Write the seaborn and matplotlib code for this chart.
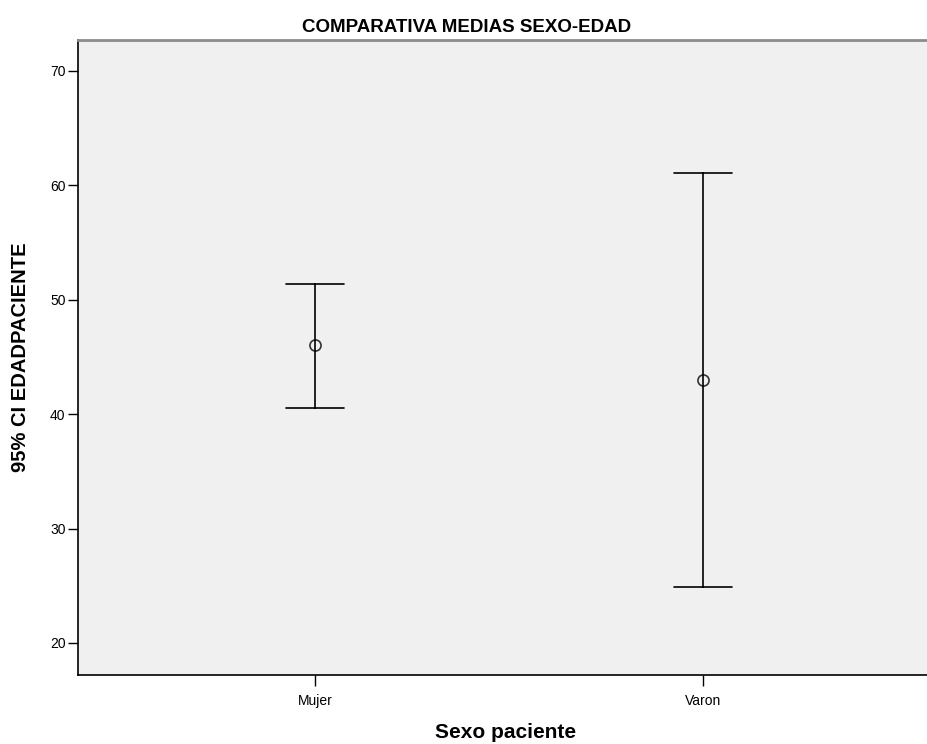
import matplotlib
matplotlib.use("Agg")
import matplotlib.pyplot as plt
import seaborn as sns
import pandas as pd

categories = ["Mujer", "Varon"]
means = [46.0, 43.0]
lower = [40.5, 24.9]
upper = [51.4, 61.1]

rows = []
for c, lo, m, hi in zip(categories, lower, means, upper):
    for v in (lo, m, hi):
        rows.append({"Sexo paciente": c, "EDAD": v})
df = pd.DataFrame(rows)

sns.set_style("white", {"text.color": "black", "axes.labelcolor": "black",
                        "xtick.color": "black", "ytick.color": "black"})
plt.rcParams["font.family"] = ["Liberation Sans", "DejaVu Sans"]

fig = plt.figure(figsize=(9.28, 7.44), dpi=100)
ax = fig.add_axes([78/928, 1-675/744, 1-78/928, (675-40)/744])
ax.set_facecolor("#f0f0f0")

sns.pointplot(data=df, x="Sexo paciente", y="EDAD", order=categories,
              estimator="median", errorbar=("pi", 100), capsize=0.15,
              linestyle="none", color="black", markers="o",
              err_kws={"linewidth": 1.2}, ax=ax)
for line in ax.lines:
    if line.get_marker() == "o":
        line.set_markerfacecolor("none")
        line.set_markeredgecolor("#333333")
        line.set_markersize(8)
        line.set_markeredgewidth(1.2)

ax.set_xlim(-0.611, 1.58)
ax.set_ylim(17.2, 72.7)
ax.set_yticks([20, 30, 40, 50, 60, 70])
ax.tick_params(axis="y", direction="out", length=7, width=1, labelsize=10, pad=2, left=True)
ax.tick_params(axis="x", direction="out", length=8, width=1, labelsize=10, pad=6, bottom=True)

for s in ["left", "bottom"]:
    ax.spines[s].set_color("black")
    ax.spines[s].set_linewidth(1.2)
ax.spines["top"].set_color("#8c8c8c")
ax.spines["top"].set_linewidth(2)
ax.spines["right"].set_visible(False)

ax.set_xlabel("Sexo paciente", fontsize=15, fontweight="bold")
ax.xaxis.set_label_coords(0.503, 1 - (733 - 40) / (675 - 40))
ax.xaxis.label.set_va("center")
ax.set_ylabel("95% CI EDADPACIENTE", fontsize=14.5, fontweight="bold", labelpad=14)
fig.text(0.503, 1-27/744, "COMPARATIVA MEDIAS SEXO-EDAD", ha="center", va="center",
         fontsize=13.5, fontweight="bold", color="black")

fig.savefig("out.png", dpi=100, facecolor="white")
